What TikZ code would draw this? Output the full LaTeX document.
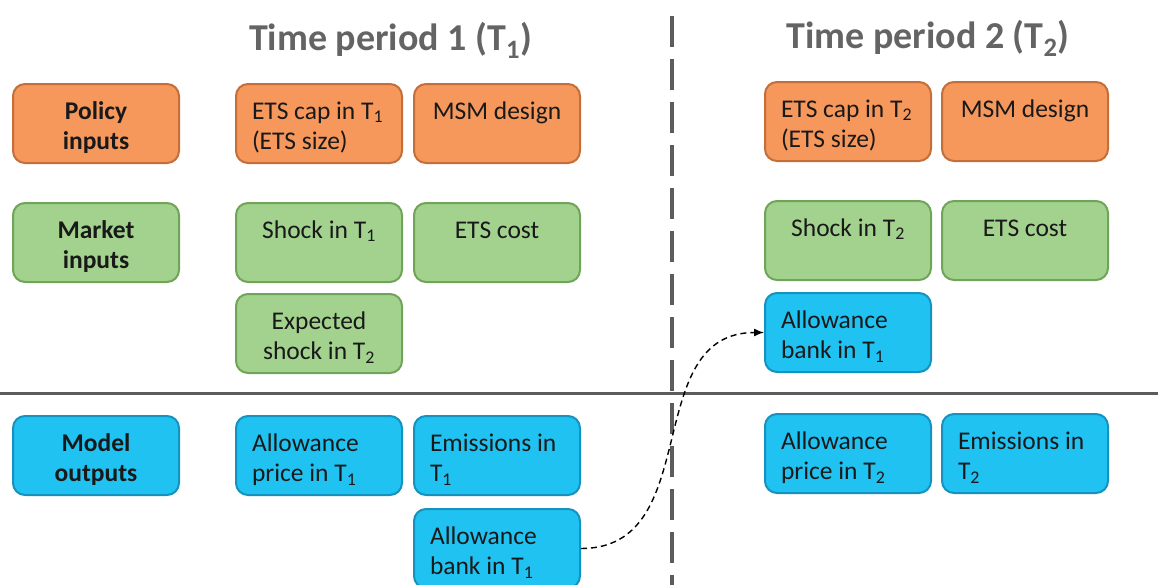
\documentclass[tikz,border=0pt]{standalone}
\usepackage{fontspec}
\setmainfont{Carlito}
\usetikzlibrary{arrows.meta}
\definecolor{orfill}{RGB}{246,151,92}
\definecolor{ordraw}{RGB}{196,110,58}
\definecolor{grfill}{RGB}{162,210,142}
\definecolor{grdraw}{RGB}{112,164,88}
\definecolor{blfill}{RGB}{32,194,242}
\definecolor{bldraw}{RGB}{22,146,190}
\definecolor{ttlgray}{RGB}{100,100,100}
\definecolor{linegray}{RGB}{92,92,92}
\newcommand\cellL[1]{\parbox[t]{134pt}{\raggedright #1}}
\newcommand\cellC[1]{\parbox[t]{134pt}{\centering #1}}
\begin{document}
\begin{tikzpicture}[x=1pt,y=-1pt,
  cell/.style={rectangle, rounded corners=12pt, line width=2pt, anchor=north west,
    inner xsep=16pt, inner ysep=0pt, text height=35pt, text depth=44pt,
    font=\fontsize{25.5}{30.5}\selectfont, text=black!90},
  pol/.style={cell, draw=ordraw, fill=orfill},
  mkt/.style={cell, draw=grdraw, fill=grfill},
  outp/.style={cell, draw=bldraw, fill=blfill},
  ttl/.style={anchor=base, text=ttlgray, font=\bfseries\fontsize{38}{46}\selectfont},
  divider/.style={draw=linegray, line width=3pt},
  vdivider/.style={draw=linegray, line width=3.5pt, dash pattern=on 31pt off 12pt},
  flow/.style={draw=black, line width=1.4pt, dash pattern=on 6pt off 4pt,
    -{Latex[length=10pt,width=8pt]}}]
\useasboundingbox (0,0) rectangle (1158,584);

% dividers
\coordinate (vtop) at (672,16);
\coordinate (vbot) at (672,600);
\coordinate (hl) at (0,393);
\coordinate (hr) at (1158,393);
\path[vdivider] (vtop) -- (vbot);
\path[divider] (hl) -- (hr);

% titles
\node[ttl] (t1) at (390.5,50) {Time period 1 (T\textsubscript{1})};
\node[ttl] (t2) at (928,48) {Time period 2 (T\textsubscript{2})};

% row labels
\node[pol]  (lpol) at (12,83)  {\cellC{\bfseries Policy\\inputs}};
\node[mkt]  (lmkt) at (12,202) {\cellC{\bfseries Market\\inputs}};
\node[outp] (lout) at (12,415) {\cellC{\bfseries Model\\outputs}};

% period 1
\node[pol]  (cap1) at (235,83)  {\cellL{ETS cap in T\textsubscript{1}\\(ETS size)}};
\node[pol]  (msm1) at (413,83)  {\cellC{MSM design}};
\node[mkt]  (shk1) at (235,202) {\cellC{Shock in T\textsubscript{1}}};
\node[mkt]  (cost1) at (413,202) {\cellC{ETS cost}};
\node[mkt]  (exp1) at (235,293) {\cellC{Expected\\shock in T\textsubscript{2}}};
\node[outp] (pr1) at (235,415)  {\cellL{Allowance\\price in T\textsubscript{1}}};
\node[outp] (em1) at (413,415)  {\cellL{Emissions in\\T\textsubscript{1}}};
\node[outp] (bk1) at (413,508)  {\cellL{Allowance\\bank in T\textsubscript{1}}};

% period 2
\node[pol]  (cap2) at (764,81)  {\cellL{ETS cap in T\textsubscript{2}\\(ETS size)}};
\node[pol]  (msm2) at (941,81)  {\cellC{MSM design}};
\node[mkt]  (shk2) at (764,200) {\cellC{Shock in T\textsubscript{2}}};
\node[mkt]  (cost2) at (941,200) {\cellC{ETS cost}};
\node[outp] (bk2) at (764,292)  {\cellL{Allowance\\bank in T\textsubscript{1}}};
\node[outp] (pr2) at (764,413)  {\cellL{Allowance\\price in T\textsubscript{2}}};
\node[outp] (em2) at (941,413)  {\cellL{Emissions in\\T\textsubscript{2}}};

% carry-over of the bank
\path[flow] (bk1.east) .. controls +(125,0) and +(-125,0) .. (bk2.west);
\end{tikzpicture}
\end{document}
